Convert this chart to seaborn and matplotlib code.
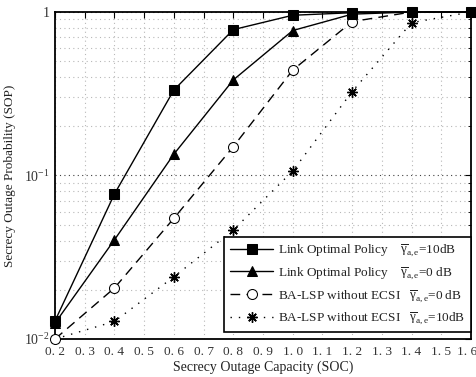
import numpy as np
import pandas as pd
import matplotlib
matplotlib.use("Agg")
import matplotlib.pyplot as plt
import matplotlib.transforms as mtransforms
from matplotlib.ticker import FixedLocator, LogLocator, NullFormatter, FixedFormatter
import seaborn as sns

# Secrecy outage capacity (x) and secrecy outage probability for each scheme
soc = [0.2, 0.4, 0.6, 0.8, 1.0, 1.2, 1.4, 1.6]
sop_lop_10db = [0.0129, 0.077, 0.333, 0.78, 0.955, 0.99, 1.0, 1.0]
sop_lop_0db = [0.0125, 0.0404, 0.135, 0.384, 0.77, 0.97, 1.0, 1.0]
sop_ba_0db = [0.0100, 0.0205, 0.0547, 0.150, 0.441, 0.873, 1.0, 1.0]
sop_ba_10db = [0.0100, 0.0128, 0.0240, 0.0464, 0.1065, 0.326, 0.86, 1.0]

labels = [
    r"Link Optimal Policy    $\overline{\gamma}_{\rm a,e}$=10dB",
    r"Link Optimal Policy    $\overline{\gamma}_{\rm a,e}$=0 dB",
    r"BA-LSP without ECSI   $\overline{\gamma}_{\rm a,e}$=0 dB",
    r"BA-LSP without ECSI   $\overline{\gamma}_{\rm a,e}$=10dB",
]

x_ticks = [0.2, 0.3, 0.4, 0.5, 0.6, 0.7, 0.8, 0.9, 1.0, 1.1, 1.2, 1.3, 1.4, 1.5, 1.6]
x_tick_labels = ["0. 2", "0. 3", "0. 4", "0. 5", "0. 6", "0. 7", "0. 8", "0. 9",
                 "1. 0", "1. 1", "1. 2", "1. 3", "1. 4", "1. 5", "1. 6"]

sns.set_theme(style="white")
plt.rcParams["font.family"] = ["Liberation Serif", "DejaVu Serif"]
plt.rcParams["mathtext.fontset"] = "custom"
plt.rcParams["mathtext.rm"] = "Liberation Serif"
plt.rcParams["mathtext.it"] = "Liberation Serif:italic"
plt.rcParams["mathtext.default"] = "regular"

fig = plt.figure(figsize=(4.77, 3.77), dpi=100)
ax = fig.add_axes([0.1153, 0.1008, 0.8721, 0.8674])

styles = [
    dict(marker="s", linestyle="-", markersize=6.8, markerfacecolor="black"),
    dict(marker="^", linestyle="-", markersize=7.5, markerfacecolor="black"),
    dict(marker="o", linestyle=(0, (7, 4.5)), markersize=7.2, markerfacecolor="white"),
    dict(marker=(8, 2, 0), linestyle=(0, (1, 5)), markersize=7.5, markerfacecolor="black",
         markeredgewidth=1.0),
]
series = [sop_lop_10db, sop_lop_0db, sop_ba_0db, sop_ba_10db]
layers = [6, 5, 4, 3]

for vals, lab, st, z in zip(series, labels, styles, layers):
    df = pd.DataFrame({"SOC": soc, "SOP": vals})
    sns.lineplot(data=df, x="SOC", y="SOP", ax=ax, color="black", linewidth=1.0,
                 markeredgecolor="black", label=lab, clip_on=False, zorder=z, **st)

ax.set_yscale("log")
ax.set_xlim(0.2, 1.6)
ax.set_ylim(0.01, 1)

ax.xaxis.set_major_locator(FixedLocator(x_ticks))
ax.xaxis.set_major_formatter(FixedFormatter(x_tick_labels))
ax.yaxis.set_major_locator(FixedLocator([0.01, 0.1, 1]))
ax.yaxis.set_major_formatter(FixedFormatter([r"$10^{-2}$", r"$10^{-1}$", "1"]))
ax.yaxis.set_minor_locator(LogLocator(base=10, subs=np.arange(2, 10)))
ax.yaxis.set_minor_formatter(NullFormatter())

ax.grid(True, which="major", axis="x", color="#b8b8b8", linestyle=(0, (1, 3)), linewidth=0.8)
ax.grid(True, which="major", axis="y", color="#404040", linestyle=(0, (1, 3)), linewidth=0.8)
ax.grid(True, which="minor", axis="y", color="#b8b8b8", linestyle=(0, (1, 3)), linewidth=0.8)

ax.tick_params(which="both", direction="in", top=True, right=True, colors="black",
               labelsize=10, labelcolor="#333333")
ax.tick_params(axis="x", labelsize=9.5, pad=5)
ax.tick_params(which="major", length=4, width=0.8)
ax.tick_params(which="minor", length=2.5, width=0.6)

# keep the rightmost x label inside the canvas
last = ax.get_xticklabels()[-1]
last.set_transform(last.get_transform()
                   + mtransforms.ScaledTranslation(-4 / 100, 0, fig.dpi_scale_trans))

for sp in ax.spines.values():
    sp.set_color("black")
    sp.set_linewidth(1.3)

ax.set_xlabel("Secrecy Outage Capacity (SOC)", fontsize=10, color="#222222", labelpad=2)
ax.set_ylabel("Secrecy Outage Probability (SOP)", fontsize=9.5, color="#222222", labelpad=6)

leg = ax.legend(loc="lower right", bbox_to_anchor=(1.0, 0.021), borderaxespad=0,
                fontsize=9.5, frameon=True, fancybox=False, framealpha=1,
                edgecolor="black", handlelength=3.2, labelspacing=0.55,
                borderpad=0.45, handletextpad=0.4)
leg.get_frame().set_linewidth(1.2)
leg.set_zorder(10)
for t in leg.get_texts():
    t.set_color("#222222")

fig.savefig("out.png", dpi=100)
